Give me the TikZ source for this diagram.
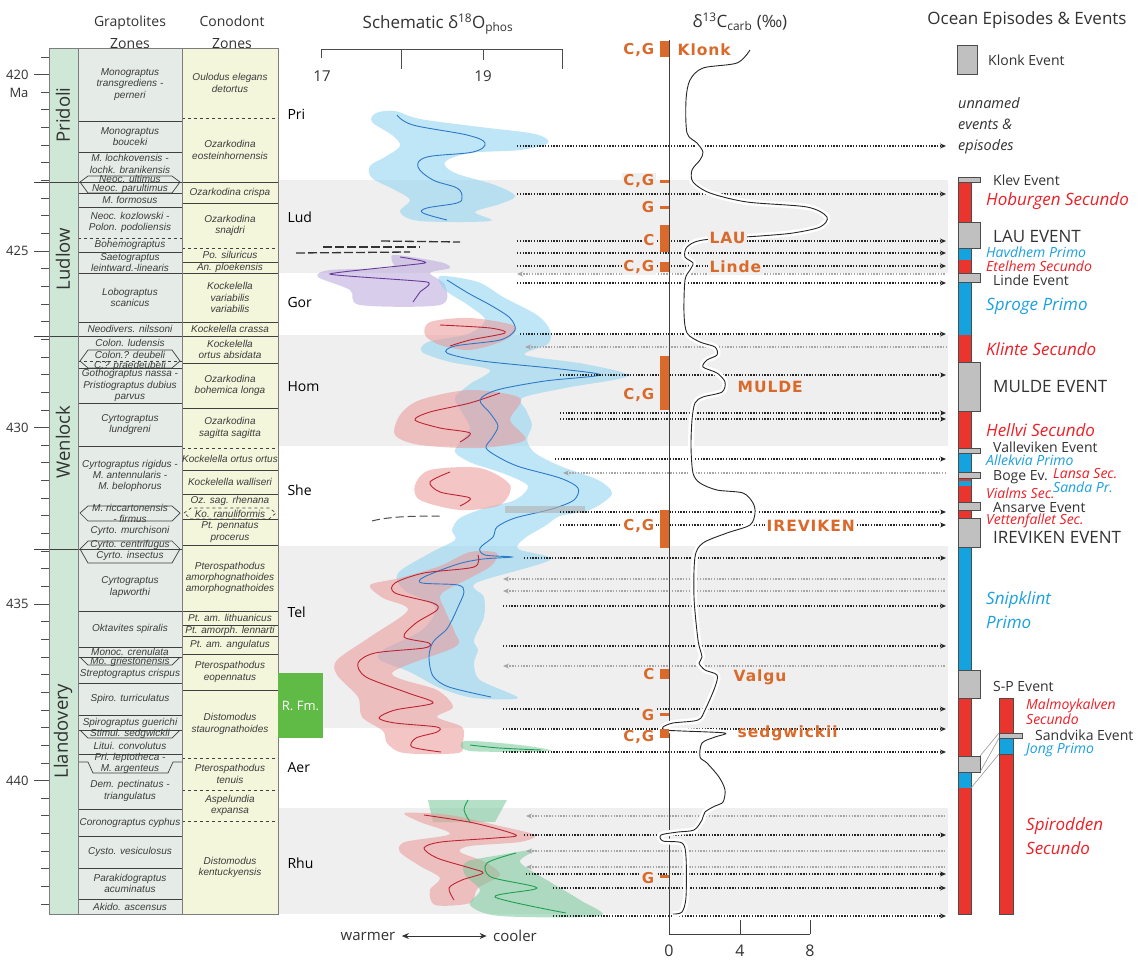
\documentclass[tikz,border=0pt]{standalone}
\usepackage{fontspec}
\setmainfont{Open Sans}
\newfontfamily\zonefont{Liberation Sans}
\newfontfamily\markfont[LetterSpace=6]{DejaVu Sans}
\usetikzlibrary{arrows.meta}

\definecolor{periodgreen}{RGB}{206,231,214}
\definecolor{graptcol}{RGB}{229,236,231}
\definecolor{conocol}{RGB}{243,246,218}
\definecolor{bandgray}{RGB}{239,239,239}
\definecolor{zonetext}{RGB}{60,60,60}
\definecolor{linegray}{RGB}{125,125,125}
\definecolor{markorange}{RGB}{217,106,43}
\definecolor{epred}{RGB}{233,53,46}
\definecolor{epblue}{RGB}{20,163,222}
\definecolor{evgray}{RGB}{192,192,192}
\definecolor{txtred}{RGB}{237,32,39}
\definecolor{txtblue}{RGB}{27,160,224}
\definecolor{rfmgreen}{RGB}{96,186,70}
\definecolor{isoblue}{RGB}{140,210,240}
\definecolor{isored}{RGB}{236,150,150}
\definecolor{isogreen}{RGB}{120,200,155}
\definecolor{isopurple}{RGB}{185,165,220}
\definecolor{lblue}{RGB}{45,120,200}
\definecolor{lred}{RGB}{190,35,50}
\definecolor{lgreen}{RGB}{30,160,80}
\definecolor{lpurple}{RGB}{105,60,155}
\definecolor{darktext}{RGB}{50,50,50}

\tikzset{
  zone/.style={font=\zonefont\itshape\fontsize{10}{11.4}\selectfont, text=zonetext, align=center, inner sep=0pt},
  zoneline/.style={draw=black!75, line width=0.7pt},
  head/.style={font=\fontsize{17}{20}\selectfont, text=darktext},
  subhead/.style={font=\fontsize{14}{22}\selectfont, text=darktext, align=center},
  agelabel/.style={font=\fontsize{13}{15}\selectfont, text=darktext, anchor=east},
  stagelabel/.style={font=\fontsize{14}{16}\selectfont, text=black, anchor=west},
  periodlabel/.style={font=\fontsize{18.5}{20}\selectfont, text=darktext, rotate=90},
  dotarrow/.style={line width=1.5pt, dash pattern=on 1.3pt off 1.5pt, black!85, -{Stealth[length=6pt,width=5pt]}},
  dotback/.style={line width=1.5pt, dash pattern=on 1.3pt off 1.5pt, black!35, {Stealth[length=6pt,width=5pt]}-},
  isoband/.style={fill=#1, opacity=0.55, draw=none},
  isoline/.style={draw=#1, line width=0.9pt},
  cgmark/.style={font=\markfont\bfseries\fontsize{15}{15}\selectfont, text=markorange, inner sep=1.5pt, anchor=east},
  evname/.style={font=\markfont\bfseries\fontsize{15.5}{16}\selectfont, text=markorange, inner sep=1.5pt, anchor=west},
  evsmall/.style={font=\fontsize{14}{16}\selectfont, text=darktext, anchor=west, inner sep=0pt},
  evbig/.style={font=\fontsize{17}{19}\selectfont, text=darktext, anchor=west, inner sep=0pt},
  epibig/.style={font=\itshape\fontsize{17}{24}\selectfont, text=#1, anchor=west, inner sep=0pt, align=left},
  epismall/.style={font=\itshape\fontsize{14}{12.5}\selectfont, text=#1, anchor=west, inner sep=0pt, align=left},
  evbox/.style={fill=evgray, draw=black!70, line width=0.6pt},
}

\begin{document}
\begin{tikzpicture}[x=1pt, y=-1pt]
    \useasboundingbox (0,0) rectangle (1141,961);
    \fill[white] (0,0) rectangle (1141,961);

    % grey stage bands
    \foreach \ya/\yb in {180/273, 335/446, 546/728, 808/914}
        \fill[bandgray] (278,\ya) rectangle (948,\yb);

    % headings
    \node[subhead] (grapthead) at (130,32) {Graptolites\\Zones};
    \node[subhead] (conohead) at (232,32) {Conodont\\Zones};
    \node[head] (oxyhead) at (438,24) {Schematic δ\textsuperscript{18}O\textsubscript{phos}};
    \node[head] (carbhead) at (740,22) {δ\textsuperscript{13}C\textsubscript{carb} (‰)};
    \node[head] (oceanhead) at (1027,20) {Ocean Episodes \& Events};

    % stratigraphic columns
    \fill[periodgreen] (49,48) rectangle (78,914);
    \fill[graptcol] (78,48) rectangle (182,914);
    \fill[conocol] (182,48) rectangle (278,914);
    \foreach \k in {0,...,48}{
        \pgfmathsetmacro{\ty}{56.9+17.65*\k}
        \pgfmathsetmacro{\tx}{mod(\k,10)==1 ? 34 : 41}
        \draw[black!70, line width=0.8pt] (\tx,\ty) -- (49,\ty);
    }
    \foreach \a/\k in {420/1, 425/11, 430/21, 435/31, 440/41}
        \node[agelabel] (age\a) at (32,{56.9+17.65*\k}) {\a};
    \node[agelabel] (ageunit) at (32,93) {Ma};

    \foreach \y in {121,152,193,207,252,273,322,368,403,446,611,647,657,683,715,730,754,809,836,868,899}
        \draw[zoneline] (78,\y) -- (182,\y);
    \foreach \y in {238,361}
        \draw[zoneline, dashed] (78,\y) -- (182,\y);
    \draw[zoneline] (80,182) -- (88,176) -- (172,176) -- (180,182) -- (172,193) -- (88,193) -- cycle;
    \draw[zoneline] (80,361) -- (88,350) -- (172,350) -- (180,361) -- (172,368) -- (88,368) -- cycle;
    \draw[zoneline] (80,513) -- (88,506) -- (172,506) -- (180,513) -- (172,521) -- (88,521) -- cycle;
    \draw[zoneline] (80,549) -- (88,541) -- (172,541) -- (180,549) -- (172,563) -- (88,563) -- cycle;
    \draw[zoneline] (80,657) -- (88,665) -- (172,665) -- (180,657);
    \draw[zoneline] (80,730) -- (88,738) -- (172,738) -- (180,730);
    \draw[zoneline] (78,762) -- (88,762) -- (93,773) -- (168,773) -- (173,762) -- (182,762);

    \foreach \y in {203,262,273,322,363,408,470,494,519,545,611,625,636,654,690}
        \draw[zoneline] (182,\y) -- (278,\y);
    \foreach \y in {118,248,336,448,758,790,821}
        \draw[zoneline, dashed] (182,\y) -- (278,\y);
    \draw[zoneline, dashed] (184,513) -- (191,508) -- (269,508) -- (276,513) -- (269,519) -- (191,519) -- cycle;

    \foreach \y in {182,336}
        \draw[zoneline] (34,\y) -- (278,\y);
    \draw[zoneline] (34,549) -- (182,549);

    \draw[linegray, line width=0.8pt] (49,48) rectangle (78,914);
    \draw[linegray, line width=0.8pt] (78,48) rectangle (182,914);
    \draw[linegray, line width=0.8pt] (182,48) rectangle (278,914);

    \node[periodlabel] (pridoli) at (63,115) {Pridoli};
    \node[periodlabel] (ludlow) at (63,259) {Ludlow};
    \node[periodlabel] (wenlock) at (63,442) {Wenlock};
    \node[periodlabel] (llandovery) at (63,731) {Llandovery};

    \foreach \yt/\yb/\txt [count=\i] in {
        48/121/{Monograptus\\transgrediens -\\perneri},
        121/152/{Monograptus\\bouceki},
        152/176/{M. lochkovensis -\\lochk. branikensis},
        175/182/{Neoc. ultimus},
        184/194/{Neoc. parultimus},
        193/207/{M. formosus},
        207/238/{Neoc. kozlowski -\\Polon. podoliensis},
        238/252/{Bohemograptus},
        252/273/{Saetograptus\\leintward.-linearis},
        273/322/{Lobograptus\\scanicus},
        322/336/{Neodivers. nilssoni},
        336/350/{Colon. ludensis},
        349/360/{Colon.? deubeli},
        362/369/{C.? praedeubeli},
        368/403/{Gothograptus nassa -\\Pristiograptus dubius\\parvus},
        403/446/{Cyrtograptus\\lundgreni},
        446/506/{Cyrtograptus rigidus -\\M. antennularis -\\M. belophorus},
        506/521/{M. riccartonensis\\- firmus},
        521/541/{Cyrto. murchisoni},
        541/549/{Cyrto. centrifugus},
        549/563/{Cyrto. insectus},
        563/611/{Cyrtograptus\\lapworthi},
        611/647/{Oktavites spiralis},
        647/656/{Monoc. crenulata},
        657/666/{Mo. griestonensis},
        665/683/{Streptograptus crispus},
        683/715/{Spiro. turriculatus},
        715/730/{Spirograptus guerichi},
        730/738/{Stimul. sedgwickii},
        738/754/{Litui. convolutus},
        754/773/{Pri. leptotheca -\\M. argenteus},
        773/809/{Dem. pectinatus -\\triangulatus},
        809/836/{Coronograptus cyphus},
        836/868/{Cysto. vesiculosus},
        868/899/{Parakidograptus\\acuminatus},
        899/914/{Akido. ascensus}}
        \node[zone] (gz\i) at (130,{(\yt+\yb)/2}) {\txt};

    \foreach \yt/\yb/\txt [count=\i] in {
        48/118/{Oulodus elegans\\detortus},
        118/182/{Ozarkodina\\eosteinhornensis},
        182/203/{Ozarkodina crispa},
        203/248/{Ozarkodina\\snajdri},
        248/262/{Po. siluricus},
        262/273/{An. ploekensis},
        273/322/{Kockelella\\variabilis\\variabilis},
        322/336/{Kockelella crassa},
        336/363/{Kockelella\\ortus absidata},
        363/408/{Ozarkodina\\bohemica longa},
        408/448/{Ozarkodina\\sagitta sagitta},
        448/470/{Kockelella ortus ortus},
        470/494/{Kockelella walliseri},
        494/508/{Oz. sag. rhenana},
        508/519/{Ko. ranuliformis},
        519/545/{Pt. pennatus\\procerus},
        545/611/{Pterospathodus\\amorphognathoides\\amorphognathoides},
        611/625/{Pt. am. lithuanicus},
        625/636/{Pt. amorph. lennarti},
        636/654/{Pt. am. angulatus},
        654/690/{Pterospathodus\\eopennatus},
        690/758/{Distomodus\\staurognathoides},
        758/790/{Pterospathodus\\tenuis},
        790/821/{Aspelundia\\expansa},
        821/914/{Distomodus\\kentuckyensis}}
        \node[zone] (cz\i) at (230,{(\yt+\yb)/2}) {\txt};

    % stages
    \foreach \s/\y in {Pri/114, Lud/217, Gor/302, Hom/387, She/490, Tel/612, Aer/768, Rhu/863}
        \node[stagelabel] (stage\s) at (284,\y) {\s};
    \node[fill=rfmgreen, minimum width=45pt, minimum height=65pt, inner sep=0pt,
          text=white, font=\fontsize{13}{15}\selectfont] (rfm) at (300.5,705.5) {R.~Fm.};

    % d18O axis
    \draw[black!70, line width=0.9pt] (321,58) -- (321,49) -- (562,49) -- (562,69);
    \draw[black!70, line width=0.9pt] (401,49) -- (401,69);
    \draw[black!70, line width=0.9pt] (483,49) -- (483,60);
    \node[font=\fontsize{15}{17}\selectfont, text=darktext] (oxy17) at (322,76) {17};
    \node[font=\fontsize{15}{17}\selectfont, text=darktext] (oxy19) at (483,76) {19};

    % d18O curves
    \fill[isoband=isoblue] plot[smooth cycle, tension=0.55] coordinates {(395,111) (420,119) (480,127) (535,134) (548,143) (520,150) (470,153) (445,162) (455,173) (495,185) (515,196) (500,204) (475,212) (490,221) (420,221) (400,212) (410,200) (395,190) (372,178) (370,166) (385,157) (400,146) (392,135) (372,122) (376,113)};
    \draw[isoline=lblue] plot[smooth, tension=0.6] coordinates {(397,115) (413,125) (467,135) (485,143) (473,152) (427,157) (418,167) (433,180) (457,188) (462,197) (457,203) (427,208) (423,213) (447,220)};

    \draw[black!80, line width=1.3pt, dash pattern=on 9pt off 3pt] (381,241) -- (460,242);
    \draw[black!80, line width=1.3pt, dash pattern=on 9pt off 3pt] (323,247) -- (420,247);
    \draw[black!80, line width=1.3pt, dash pattern=on 9pt off 3pt] (296,253) -- (410,252);

    \fill[isoband=isopurple] plot[smooth cycle, tension=0.5] coordinates {(395,255) (440,262) (450,268) (430,273) (445,285) (440,305) (360,305) (350,290) (318,277) (330,270) (390,268) (392,261)};
    \draw[isoline=lpurple] plot[smooth, tension=0.3] coordinates {(400,257) (425,263) (330,274) (427,282) (420,292) (413,302)};

    \fill[isoband=isoblue] plot[smooth cycle, tension=0.5] coordinates {(440,276) (445,290) (468,305) (485,320) (468,334) (428,342) (422,352) (450,362) (490,370) (470,384) (455,398) (462,412) (470,428) (462,440) (455,452) (472,463) (505,474) (528,486) (515,500) (485,508) (460,518) (452,530) (455,540) (432,552) (398,573) (404,590) (435,607) (422,630) (383,650) (380,660) (410,672) (440,688) (474,698) (518,698) (480,680) (474,663) (478,650) (474,640) (484,617) (484,597) (476,583) (550,560) (518,549) (525,538) (545,526) (560,516) (590,510) (612,494) (598,480) (560,466) (535,453) (527,440) (532,425) (526,410) (522,398) (565,388) (628,376) (585,364) (525,355) (548,344) (550,330) (537,315) (503,297) (478,282)};

    \fill[isoband=isored] plot[smooth cycle, tension=0.5] coordinates {(430,322) (470,318) (515,326) (505,340) (470,350) (440,345) (425,335)};
    \fill[isoband=isored] plot[smooth cycle, tension=0.5] coordinates {(470,390) (520,398) (510,420) (525,440) (480,448) (420,445) (395,435) (400,415) (420,400)};
    \fill[isoband=isored] plot[smooth cycle, tension=0.5] coordinates {(430,470) (480,468) (510,485) (500,505) (460,510) (420,500) (415,485)};
    \fill[isoband=isored] plot[smooth cycle, tension=0.5] coordinates {(470,552) (440,566) (400,578) (370,585) (383,598) (408,610) (370,637) (337,660) (337,675) (358,697) (362,717) (383,731) (387,743) (404,753) (458,753) (463,742) (462,727) (437,717) (453,707) (437,690) (392,673) (455,647) (455,633) (445,610) (441,594) (470,578) (491,566) (497,553)};

    \draw[isoline=lred] plot[smooth, tension=0.5] coordinates {(440,325) (490,328) (505,333) (470,340) (450,346)};
    \draw[isoline=lred] plot[smooth, tension=0.5] coordinates {(500,393) (470,403) (430,412) (415,420) (440,428) (470,433) (460,442)};
    \draw[isoline=lred] plot[smooth, tension=0.5] coordinates {(450,472) (430,482) (440,492) (470,498) (460,506)};

    \draw[isoline=lblue] plot[smooth, tension=0.5] coordinates {(447,280) (468,293) (492,306) (510,318) (515,330) (500,340) (455,346) (447,353) (482,361) (560,369) (600,375) (545,381) (497,390) (480,400) (490,413) (498,426) (492,438) (486,448) (500,458) (520,467) (560,478) (578,488) (574,500) (552,509) (515,518) (497,527) (493,537) (480,548) (485,555) (512,557) (483,559) (458,564) (424,577) (422,583) (458,585) (464,592) (458,607) (452,620) (446,630) (433,642) (429,657) (433,676) (449,687) (491,697)};
    \draw[isoline=lred] plot[smooth, tension=0.5] coordinates {(478,555) (474,567) (424,573) (395,583) (395,593) (433,603) (437,610) (416,623) (404,637) (429,643) (424,648) (375,653) (358,663) (366,677) (408,693) (433,703) (395,710) (379,718) (395,723) (437,727) (437,732) (416,738) (412,747) (441,752)};

    \fill[black!30, opacity=0.6] (505,506) rectangle (585,513);
    \draw[black!70, line width=1pt, dash pattern=on 8pt off 4pt] (372,521) .. controls (390,516) and (420,516) .. (443,516);

    \fill[isoband=isogreen] plot[smooth cycle, tension=0.5] coordinates {(465,741) (520,745) (550,751) (470,751)};
    \draw[isoline=lgreen] plot[smooth, tension=0.5] coordinates {(470,745) (499,748) (541,750)};

    \fill[isoband=isogreen] (428,800) -- (507,800) -- (495,822) -- (433,822) -- cycle;
    \fill[isoband=isored] plot[smooth cycle, tension=0.5] coordinates {(405,813) (450,815) (500,826) (535,835) (520,842) (470,846) (460,852) (485,862) (500,875) (478,888) (470,903) (435,905) (430,890) (440,878) (420,866) (400,852) (405,842) (450,834) (420,822)};
    \fill[isoband=isogreen] plot[smooth cycle, tension=0.5] coordinates {(466,862) (500,855) (535,850) (520,862) (550,882) (580,900) (600,916) (500,916) (470,905) (480,890) (465,875)};
    \draw[isoline=lgreen] plot[smooth, tension=0.5] coordinates {(468,800) (464,810) (470,822)};
    \draw[isoline=lred] plot[smooth, tension=0.5] coordinates {(424,815) (474,823) (516,835) (495,838) (441,842) (424,848) (437,858) (470,868) (483,873) (462,880) (449,888) (454,900)};
    \draw[isoline=lgreen] plot[smooth, tension=0.5] coordinates {(516,853) (487,863) (491,877) (537,888) (495,897) (566,913)};

    % episode lines
    \foreach \y/\xs in {146/517, 194/517, 241/517, 253/517, 266/517, 283/517, 334/520, 375/560, 413/560, 419/560, 459/555, 512/560, 525/560, 558/524, 606/503, 646/503, 709/503, 729/503, 752/503, 835/524, 874/526, 888/553, 916/553}
        \draw[dotarrow] (\xs,\y) -- (946,\y);
    \foreach \y/\xs in {274/517, 347/525, 473/563, 579/503, 591/503, 666/503, 816/526, 851/526, 867/526}
        \draw[dotback] (\xs,\y) -- (946,\y);

    % d13C axis and curve
    \draw[black!75, line width=0.8pt] (669,40) -- (669,934) -- (810,934);
    \draw[black!75, line width=0.8pt] (740,934) -- (740,920);
    \draw[black!75, line width=0.8pt] (810,934) -- (810,920);
    \foreach \v/\x in {0/669, 4/740, 8/810}
        \node[font=\fontsize{16}{18}\selectfont, text=darktext] (carb\v) at (\x,951) {\v};

    \draw[black!85, line width=0.9pt, preaction={draw=white, line width=6pt}] plot[smooth, tension=0.5] coordinates {(750,50) (737,63) (703,68) (690,80) (686,100) (687,133) (697,143) (703,152) (700,160) (692,170) (693,182) (710,193) (747,202) (807,207) (827,217) (820,227) (793,233) (760,236) (703,240) (687,247) (685,257) (693,263) (690,270) (685,280) (684,313) (687,333) (700,342) (715,347) (717,355) (707,360) (703,367) (717,373) (725,382) (722,392) (703,397) (695,403) (692,420) (691,447) (693,473) (700,483) (717,490) (743,493) (753,503) (755,513) (750,525) (727,533) (703,543) (695,557) (694,597) (698,640) (702,657) (699,663) (705,670) (717,675) (715,687) (705,710) (698,720) (673,723) (663,727) (665,730) (682,731) (725,733) (715,737) (702,743) (700,757) (707,763) (719,777) (725,790) (723,802) (715,806) (705,812) (702,820) (694,830) (678,832) (661,835) (663,841) (682,843) (686,857) (686,897) (682,912) (673,914)};

    \foreach \ya/\yb in {41/57, 180/183, 206/209, 225/252, 262/272, 356/410, 510/548, 669/679, 713/716, 729/738, 875/878}
        \fill[markorange] (660,\ya) rectangle (669,\yb);

    \node[cgmark] (mk1) at (656,50) {C,G};
    \node[cgmark, fill=bandgray] (mk2) at (656,181) {C,G};
    \node[cgmark, fill=bandgray] (mk3) at (656,207) {G};
    \node[cgmark, fill=bandgray] (mk4) at (656,240) {C};
    \node[cgmark, fill=bandgray] (mk5) at (656,267) {C,G};
    \node[cgmark, fill=bandgray] (mk6) at (656,395) {C,G};
    \node[cgmark, fill=white] (mk7) at (656,526) {C,G};
    \node[cgmark, fill=bandgray] (mk8) at (656,674) {C};
    \node[cgmark, fill=bandgray] (mk9) at (656,715) {G};
    \node[cgmark] (mk10) at (656,737) {C,G};
    \node[cgmark, fill=bandgray] (mk11) at (656,878) {G};

    \node[evname] (klonk) at (676,50) {Klonk};
    \node[evname, fill=bandgray] (lau) at (708,238) {LAU};
    \node[evname, fill=bandgray] (linde) at (708,267) {Linde};
    \node[evname] (mulde) at (736,387) {MULDE};
    \node[evname, fill=white] (ireviken) at (765,526) {IREVIKEN};
    \node[evname] (valgu) at (732,677) {Valgu};
    \node[evname] (sedgwickii) at (736,733) {sedgwickii};

    % warmer / cooler
    \node[font=\fontsize{15}{17}\selectfont, text=darktext] (warm) at (368,936) {warmer};
    \node[font=\fontsize{15}{17}\selectfont, text=darktext] (cool) at (515,936) {cooler};
    \draw[black!80, line width=1pt, {Stealth[length=7pt,width=6pt]}-{Stealth[length=7pt,width=6pt]}, shorten <=3pt, shorten >=3pt] (warm) -- (cool);

    % ocean episodes column
    \foreach \ya/\yb/\c in {182/222/epred, 248/260/epblue, 260/273/epred, 282/335/epblue, 335/362/epred, 411/448/epred, 453/472/epblue, 472/481/epred, 481/486/epblue, 486/502/epred, 510/518/epred, 547/670/epblue, 698/756/epred, 772/788/epblue, 788/914/epred}
        \fill[\c] (958,\ya) rectangle (971,\yb);
    \draw[black!70, line width=0.6pt] (958,177) rectangle (971,914);
    \foreach \ya/\yb/\c in {698/733/epred, 738/754/epblue, 754/914/epred}
        \fill[\c] (999,\ya) rectangle (1013,\yb);
    \draw[black!70, line width=0.6pt] (999,698) rectangle (1013,914);
    \draw[black!70, line width=0.6pt] (999,754) -- (1013,754);

    \draw[evbox] (957,45) rectangle (977,74);
    \foreach \ya/\yb in {177/182, 222/248, 273/282, 362/411, 448/453, 472/478, 502/510, 518/547, 670/698, 756/772}
        \draw[evbox] (958,\ya) rectangle (980,\yb);
    \draw[evbox] (999,733) rectangle (1022,738);

    \coordinate (svA) at (980,756);
    \coordinate (svB) at (980,772);
    \coordinate (svC) at (971,788);
    \coordinate (svD) at (999,733);
    \coordinate (svE) at (999,738);
    \coordinate (svF) at (999,754);
    \draw[black!40, line width=0.6pt] (svA) -- (svD) (svB) -- (svE) (svC) -- (svF);

    \node[evsmall] (klonkev) at (988,60) {Klonk Event};
    \node[anchor=west, inner sep=0pt, align=left, text=darktext, font=\itshape\fontsize{14.5}{21}\selectfont] (unnamed) at (958,126) {unnamed\\events \&\\episodes};
    \node[evsmall] (klev) at (993,180) {Klev Event};
    \node[epibig=txtred] (hoburgen) at (986,201) {Hoburgen Secundo};
    \node[evbig] (lauev) at (993,236) {LAU EVENT};
    \node[epismall=txtblue] (havdhem) at (986,252) {Havdhem Primo};
    \node[epismall=txtred] (etelhem) at (986,266) {Etelhem Secundo};
    \node[evsmall] (lindeev) at (993,280) {Linde Event};
    \node[epibig=txtblue] (sproge) at (986,306) {Sproge Primo};
    \node[epibig=txtred] (klinte) at (986,349) {Klinte Secundo};
    \node[evbig] (muldeev) at (993,387) {MULDE EVENT};
    \node[epibig=txtred] (hellvi) at (986,430) {Hellvi Secundo};
    \node[evsmall] (valleviken) at (993,447) {Valleviken Event};
    \node[epismall=txtblue] (allekvia) at (986,460) {Allekvia Primo};
    \node[evsmall] (boge) at (993,477) {Boge Ev.};
    \node[epismall=txtred] (lansa) at (1053,474) {Lansa Sec.};
    \node[epismall=txtblue] (sanda) at (1053,487) {Sanda Pr.};
    \node[epismall=txtred] (vialms) at (986,493) {Vialms Sec.};
    \node[evsmall] (ansarve) at (993,508) {Ansarve Event};
    \node[epismall=txtred] (vettenfallet) at (986,521) {Vettenfallet Sec.};
    \node[evbig] (irevikenev) at (993,537) {IREVIKEN EVENT};
    \node[epibig=txtblue] (snipklint) at (986,610) {Snipklint\\Primo};
    \node[evsmall] (spev) at (993,686) {S-P Event};
    \node[epismall=txtred] (malmoykalven) at (1026,712) {Malmoykalven\\Secundo};
    \node[evsmall] (sandvika) at (1035,735) {Sandvika Event};
    \node[epismall=txtblue] (jong) at (1026,750) {Jong Primo};
    \node[epibig=txtred] (spirodden) at (1026,836) {Spirodden\\Secundo};
\end{tikzpicture}
\end{document}
